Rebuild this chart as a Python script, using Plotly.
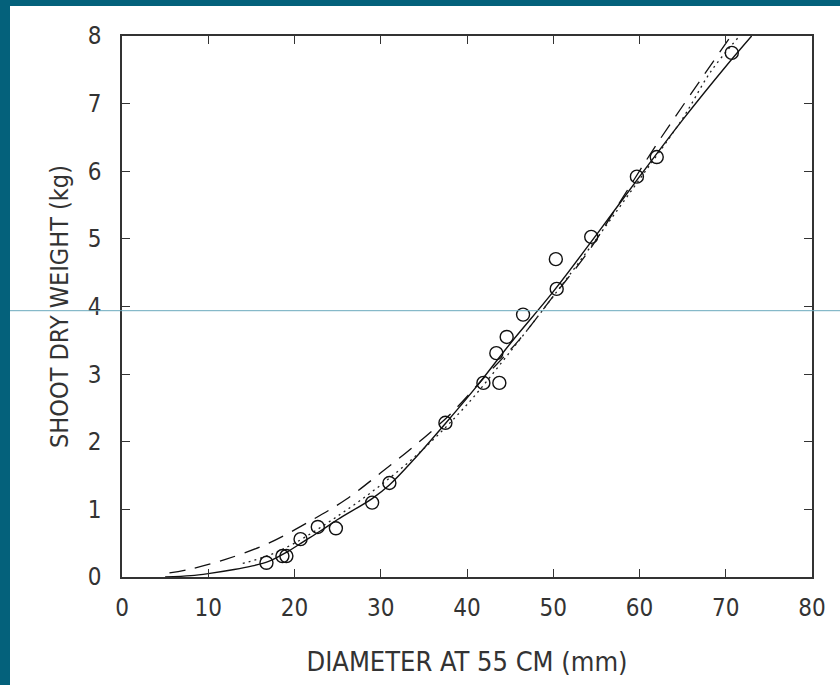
import plotly.graph_objects as go

# Observed data points
obs_x = [16.75, 18.6, 19.06, 20.7, 22.7, 24.8, 29.0, 31.0, 37.5, 41.9, 43.75, 43.4,
         44.6, 46.5, 50.3, 50.4, 54.4, 59.7, 62.0, 70.7]
obs_y = [0.21, 0.31, 0.31, 0.56, 0.74, 0.72, 1.10, 1.39, 2.28, 2.87, 2.87, 3.31,
         3.55, 3.88, 4.70, 4.26, 5.03, 5.92, 6.21, 7.75]

# Fitted curves
solid_x = [5.0, 8.0, 10.0, 13.0, 15.0, 17.0, 19.0, 21.0, 23.0, 25.0, 29.0, 31.0, 34.0,
           37.5, 41.0, 45.0, 50.0, 55.0, 60.0, 65.0, 70.0, 73.0]
solid_y = [0.0, 0.02, 0.05, 0.11, 0.16, 0.23, 0.36, 0.52, 0.68, 0.85, 1.16, 1.36, 1.76,
           2.27, 2.8, 3.45, 4.22, 5.06, 5.92, 6.76, 7.55, 8.0]

dash_x = [5.5, 8.0, 12.0, 17.0, 22.0, 26.0, 30.0, 34.0, 38.0, 42.0, 46.0, 50.0, 54.0,
          58.0, 62.0, 66.0, 70.6]
dash_y = [0.06, 0.12, 0.26, 0.5, 0.84, 1.15, 1.54, 1.95, 2.4, 2.95, 3.5, 4.15, 4.8,
          5.6, 6.4, 7.15, 8.0]

dot_x = [14.0, 17.0, 20.0, 25.0, 30.0, 35.0, 40.0, 45.0, 50.0, 55.0, 60.0, 65.0, 68.3, 71.6]
dot_y = [0.2, 0.32, 0.5, 0.9, 1.36, 1.9, 2.55, 3.33, 4.15, 5.0, 5.88, 6.78, 7.48, 8.0]

x_ticks = [0, 10, 20, 30, 40, 50, 60, 70, 80]
y_ticks = [0, 1, 2, 3, 4, 5, 6, 7, 8]

x_title = "DIAMETER AT 55 CM (mm)"
y_title = "SHOOT DRY WEIGHT (kg)"

FONT = "DejaVu Sans Condensed, Liberation Sans, Arial, sans-serif"
INK = "#333333"
TEAL = "#04617b"

fig = go.Figure()
fig.add_trace(go.Scatter(x=solid_x, y=solid_y, mode="lines", line_shape="spline",
                         line=dict(color="#111", width=1.4), hoverinfo="skip"))
fig.add_trace(go.Scatter(x=dash_x, y=dash_y, mode="lines", line_shape="spline",
                         line=dict(color="#111", width=1.3, dash="16px,10px"), hoverinfo="skip"))
fig.add_trace(go.Scatter(x=dot_x, y=dot_y, mode="lines", line_shape="spline",
                         line=dict(color="#222", width=1.3, dash="2px,4px"), hoverinfo="skip"))
fig.add_trace(go.Scatter(x=obs_x, y=obs_y, mode="markers",
                         marker=dict(symbol="circle-open", size=13, color="#111",
                                     line=dict(color="#111", width=1.4))))

L, R, T, B = 122, 28, 36, 108
W, H = 840, 685
pw, ph = W - L - R, H - T - B

def px2x(px):
    return (px - L) / pw

def py2y(py):
    return (H - B - py) / ph

shapes = [
    dict(type="rect", xref="paper", yref="paper", x0=px2x(0), x1=px2x(10),
         y0=py2y(H), y1=py2y(0), fillcolor=TEAL, line_width=0, layer="above"),
    dict(type="rect", xref="paper", yref="paper", x0=px2x(0), x1=px2x(W),
         y0=py2y(6), y1=py2y(0), fillcolor=TEAL, line_width=0, layer="above"),
    dict(type="line", xref="paper", yref="paper", x0=px2x(10), x1=px2x(W),
         y0=py2y(310.7), y1=py2y(310.7), line=dict(color="#6aa9bd", width=1), layer="above"),
]

axis_common = dict(showline=True, linecolor=INK, linewidth=1.5, mirror="ticks",
                   ticks="inside", ticklen=8, tickwidth=1.3, tickcolor=INK,
                   showgrid=False, zeroline=False,
                   tickfont=dict(family=FONT, size=24, color=INK))

fig.update_layout(
    width=W, height=H,
    margin=dict(l=L, r=R, t=T, b=B),
    paper_bgcolor="white", plot_bgcolor="white",
    showlegend=False,
    shapes=shapes,
    xaxis=dict(range=[0, 80], tickvals=x_ticks, ticklabelstandoff=8,
               title=dict(text=x_title, font=dict(family=FONT, size=27, color=INK), standoff=32),
               **axis_common),
    yaxis=dict(range=[0, 8], tickvals=y_ticks, ticklabelstandoff=14,
               title=dict(text=y_title, font=dict(family=FONT, size=25, color=INK), standoff=12),
               **axis_common),
)

fig.write_html("out.html")
